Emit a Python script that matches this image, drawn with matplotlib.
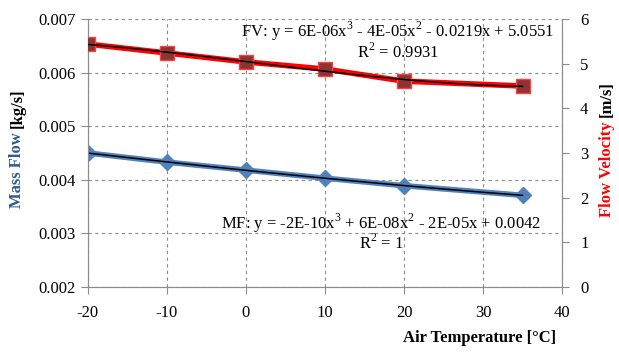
# -*- coding: utf-8 -*-

import matplotlib
matplotlib.use("Agg")
import matplotlib.pyplot as plt
import numpy as np

# data
air_temp = [-20, -10, 0, 10, 20, 35]
mass_flow = [0.00450, 0.00433, 0.00418, 0.00403, 0.00389, 0.00371]
flow_velocity = [5.44, 5.24, 5.04, 4.88, 4.61, 4.50]

x_ticks = [-20, -10, 0, 10, 20, 30, 40]
mf_ticks = [0.002, 0.003, 0.004, 0.005, 0.006, 0.007]
fv_ticks = [0, 1, 2, 3, 4, 5, 6]

fv_label = "FV: y = 6E-06x$^3$ - 4E-05x$^2$ - 0.0219x + 5.0551"
fv_r2 = "R$^2$ = 0.9931"
mf_label = "MF: y = -2E-10x$^3$ + 6E-08x$^2$ - 2E-05x + 0.0042"
mf_r2 = "R$^2$ = 1"

plt.rcParams['font.family'] = ['Liberation Serif', 'DejaVu Serif']
plt.rcParams['mathtext.fontset'] = 'custom'
plt.rcParams['mathtext.rm'] = 'Liberation Serif'
plt.rcParams['axes.unicode_minus'] = False
plt.rcParams['font.size'] = 12

grey = '#8c8c8c'
blue = '#4F81BD'
red = '#FF0000'

fig = plt.figure(figsize=(6.19, 3.60), dpi=100)
ax = fig.add_axes([0.142, 0.203, 0.766, 0.744])
ax2 = ax.twinx()

# mass flow (left axis)
ax.plot(air_temp, mass_flow, color=blue, lw=4, marker='D', ms=8,
        markerfacecolor=blue, markeredgecolor=blue, zorder=3)
xs = np.linspace(air_temp[0], air_temp[-1], 100)
mf_fit = np.polyfit(air_temp, mass_flow, 3)
ax.plot(xs, np.polyval(mf_fit, xs), color='black', lw=1.1, zorder=4)

# flow velocity (right axis)
ax2.plot(air_temp, flow_velocity, color=red, lw=4, marker='s', ms=10,
         markerfacecolor='#8E3333', markeredgecolor='#FF4040', zorder=3)
fv_fit = np.polyfit(air_temp, flow_velocity, 3)
ax2.plot(xs, np.polyval(fv_fit, xs), color='black', lw=1.1, zorder=4)

ax.set_xlim(-20, 40)
ax.set_ylim(0.002, 0.007)
ax2.set_ylim(0, 6)
ax.set_xticks(x_ticks)
ax.set_yticks(mf_ticks)
ax.set_yticklabels(["%.3f" % v for v in mf_ticks])
ax2.set_yticks(fv_ticks)

ax.grid(True, color=grey, linestyle=(0, (3, 3)), lw=0.8)
ax.set_axisbelow(True)

for a in (ax, ax2):
    a.spines['top'].set_visible(False)
    for s in ('left', 'right', 'bottom'):
        a.spines[s].set_color(grey)
    a.tick_params(colors=grey, labelcolor='black', labelsize=12,
                  length=5, direction='out')
ax.tick_params(axis='x', pad=8)
ax.tick_params(axis='y', pad=4)
ax2.tick_params(axis='y', pad=8)

# trendline equations
ax.text(0.654, 0.955, fv_label, transform=ax.transAxes, ha='center',
        va='center', fontsize=12)
ax.text(0.654, 0.877, fv_r2, transform=ax.transAxes, ha='center',
        va='center', fontsize=12)
ax.text(0.618, 0.239, mf_label, transform=ax.transAxes, ha='center',
        va='center', fontsize=12)
ax.text(0.618, 0.164, mf_r2, transform=ax.transAxes, ha='center',
        va='center', fontsize=12)

# axis titles, two colours each
fig.text(0.028, 0.633, "Mass Flow", rotation=90, ha='center', va='top',
         color='#2E5B8E', fontweight='bold', fontsize=12)
fig.text(0.028, 0.645, "[kg/s]", rotation=90, ha='center', va='bottom',
         color='black', fontweight='bold', fontsize=12)
fig.text(0.981, 0.663, "Flow Velocity", rotation=90, ha='center', va='top',
         color=red, fontweight='bold', fontsize=12)
fig.text(0.981, 0.675, "[m/s]", rotation=90, ha='center', va='bottom',
         color='black', fontweight='bold', fontsize=12)
fig.text(0.775, 0.061, "Air Temperature [°C]", ha='center', va='center',
         fontweight='bold', fontsize=12)

fig.savefig("out.png", dpi=100)
